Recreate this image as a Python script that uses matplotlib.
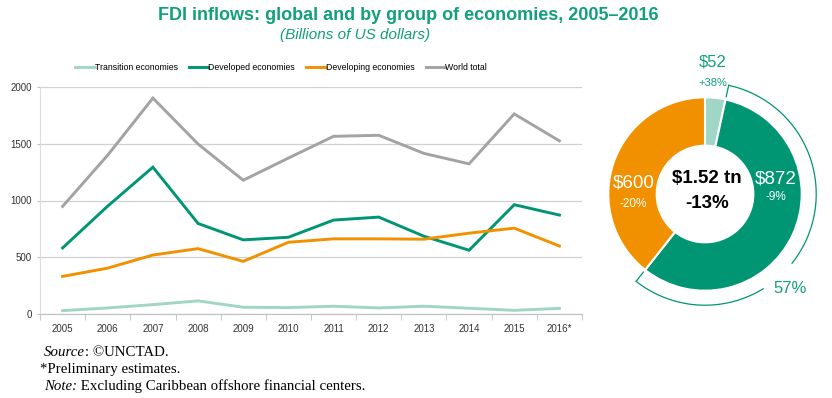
import numpy as np
import matplotlib
matplotlib.use("Agg")
import matplotlib.pyplot as plt

# FDI inflows, billions of US dollars
years = ["2005", "2006", "2007", "2008", "2009", "2010", "2011", "2012",
         "2013", "2014", "2015", "2016*"]
transition = [32, 56, 85, 118, 62, 59, 71, 56, 71, 53, 35, 52]
developed = [583, 951, 1293, 798, 654, 677, 828, 854, 686, 563, 963, 872]
developing = [333, 406, 521, 577, 465, 633, 663, 663, 660, 713, 757, 600]
world = [948, 1399, 1900, 1496, 1178, 1373, 1564, 1573, 1414, 1322, 1761, 1524]

series_names = ["Transition economies", "Developed economies",
                "Developing economies", "World total"]

# 2016 donut
donut_vals = [52, 872, 600]
donut_change = ["+38%", "-9%", "-20%"]
total_label = "$1.52 tn"
total_change = "-13%"

TEAL = "#009573"
LIGHT = "#9fd6c6"
ORANGE = "#f29100"
GREY = "#a3a3a3"
TXT_TEAL = "#12a07c"
NARROW = ["Liberation Sans Narrow", "Liberation Sans", "DejaVu Sans"]

W, H = 832, 398
fig = plt.figure(figsize=(W / 100, H / 100), dpi=100)


def px_rect(left, top, right, bottom):
    return [left / W, 1 - bottom / H, (right - left) / W, (bottom - top) / H]


# ---- line chart ----
ax = fig.add_axes(px_rect(40, 86.7, 582, 314.3))
x = np.arange(len(years))
for vals, col, name in zip([transition, developed, developing, world],
                           [LIGHT, TEAL, ORANGE, GREY], series_names):
    ax.plot(x, vals, color=col, lw=2.1, label=name, solid_joinstyle="miter")

ax.set_xlim(-0.5, len(years) - 0.5)
ax.set_ylim(0, 2000)
ax.set_yticks([0, 500, 1000, 1500, 2000])
ax.set_xticks(x)
ax.set_xticklabels(years)
ax.set_xticks(np.arange(len(years) + 1) - 0.5, minor=True)
ax.tick_params(axis="x", which="major", length=0, pad=7)
ax.tick_params(axis="x", which="minor", length=4, color="#bfbfbf", direction="out")
ax.tick_params(axis="y", length=2, color="#bfbfbf", pad=4)
for lab in ax.get_xticklabels() + ax.get_yticklabels():
    lab.set_family(NARROW)
    lab.set_fontsize(7)
    lab.set_color("#333333")
ax.grid(axis="y", color="#d0d0d0", lw=0.9)
ax.set_axisbelow(True)
for s in ["top", "right"]:
    ax.spines[s].set_visible(False)
ax.spines["left"].set_color("#dddddd")
ax.spines["bottom"].set_color("#bfbfbf")

fig.legend(loc="center", bbox_to_anchor=(281 / W, 1 - 68 / H), ncol=4,
           frameon=False, handlelength=2.2, handletextpad=0.0, columnspacing=1.3,
           prop={"family": NARROW, "size": 6.3})

# ---- titles ----
fig.text(408 / W, 1 - 16 / H, "FDI inflows: global and by group of economies, 2005–2016",
         ha="center", va="center", fontsize=13, fontweight="bold", color=TXT_TEAL,
         family="Liberation Sans")
fig.text(355 / W, 1 - 35 / H, "(Billions of US dollars)", ha="center", va="center",
         fontsize=11, style="italic", color=TXT_TEAL, family="Liberation Sans")

# ---- footnotes ----
FS = 10.7
serif = dict(family="Liberation Serif", fontsize=FS, color="black", va="center")
t = fig.text(44 / W, 1 - 352 / H, "Source", style="italic", **serif)
ax.annotate(": ©UNCTAD.", xy=(1, 0.5), xycoords=t, va="center", ha="left",
            family="Liberation Serif", fontsize=FS)
fig.text(40 / W, 1 - 369 / H, "*Preliminary estimates.", **serif)
t = fig.text(44 / W, 1 - 386 / H, "Note:", style="italic", **serif)
ax.annotate(" Excluding Caribbean offshore financial centers.", xy=(1, 0.5),
            xycoords=t, va="center", ha="left", family="Liberation Serif", fontsize=FS)

# ---- donut ----
cx, cy, r_px = 705, 194, 96.7
half = 125
dax = fig.add_axes(px_rect(cx - half, cy - half, cx + half, cy + half))
dax.pie(donut_vals, colors=[LIGHT, TEAL, ORANGE], startangle=90, counterclock=False,
        radius=1, wedgeprops=dict(width=0.5, edgecolor="white", linewidth=1.5))
lim = half / r_px
dax.set_xlim(-lim, lim)
dax.set_ylim(-lim, lim)
dax.set_aspect("equal")
dax.axis("off")

# bracket arc around the developed-economies share
tot = sum(donut_vals)
a_start = 90 - 360 * donut_vals[0] / tot
a_end = 90 - 360 * (donut_vals[0] + donut_vals[1]) / tot
share = donut_vals[1] / tot
label_ang = -48.5
gap = 10
R = 1.15
for a0, a1 in [(a_start, label_ang + gap), (label_ang - gap, a_end)]:
    th = np.radians(np.linspace(a0, a1, 100))
    dax.plot(R * np.cos(th), R * np.sin(th), color=TEAL, lw=0.9, clip_on=False)
for a in [a_start, a_end]:
    th = np.radians(a)
    dax.plot([R * np.cos(th), 1.03 * np.cos(th)], [R * np.sin(th), 1.03 * np.sin(th)],
             color=TEAL, lw=0.9, clip_on=False)

th = np.radians(label_ang)
dax.text(1.32 * np.cos(th), 1.3 * np.sin(th), f"{share:.0%}", ha="center", va="center",
         fontsize=12, color=TXT_TEAL, family=NARROW)

dax.text(0.08, 1.36, f"${donut_vals[0]}", ha="center", va="center", fontsize=12,
         color=TXT_TEAL, family=NARROW)
dax.text(0.08, 1.145, donut_change[0], ha="center", va="center", fontsize=8,
         color=TXT_TEAL, family=NARROW)
dax.text(0.734, 0.16, f"${donut_vals[1]}", ha="center", va="center", fontsize=13.5,
         color="white", family=NARROW)
dax.text(0.734, -0.03, donut_change[1], ha="center", va="center", fontsize=8.5,
         color="white", family=NARROW)
dax.text(-0.741, 0.11, f"${donut_vals[2]}", ha="center", va="center", fontsize=13.5,
         color="white", family=NARROW)
dax.text(-0.741, -0.10, donut_change[2], ha="center", va="center", fontsize=8.5,
         color="white", family=NARROW)
dax.text(0.017, 0.16, total_label, ha="center", va="center", fontsize=13.5,
         fontweight="bold", color="black", family="Liberation Sans")
dax.text(0.017, -0.095, total_change, ha="center", va="center", fontsize=13.5,
         fontweight="bold", color="black", family="Liberation Sans")

fig.savefig("out.png", dpi=100)
